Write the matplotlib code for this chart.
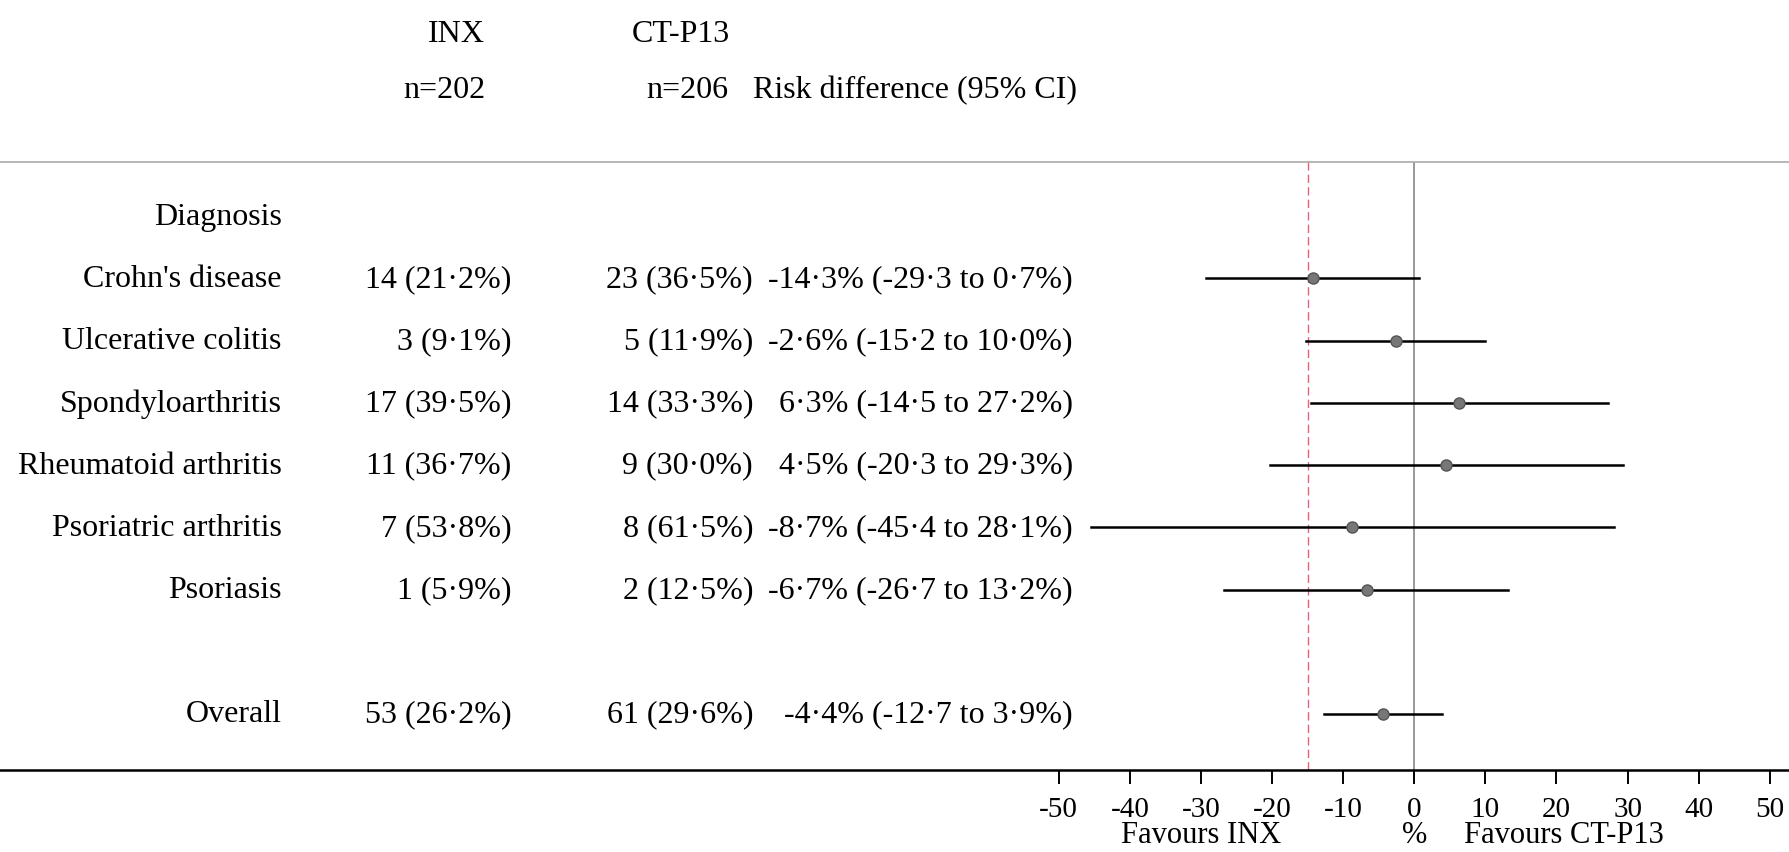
import matplotlib
matplotlib.use("Agg")
import matplotlib.pyplot as plt

plt.rcParams['font.family'] = ['Liberation Serif', 'DejaVu Serif']
plt.rcParams['axes.unicode_minus'] = False

# data
diagnoses = ["Crohn's disease", "Ulcerative colitis", "Spondyloarthritis",
             "Rheumatoid arthritis", "Psoriatric arthritis", "Psoriasis"]
inx_txt = ["14 (21·2%)", "3 (9·1%)", "17 (39·5%)", "11 (36·7%)", "7 (53·8%)", "1 (5·9%)"]
ctp_txt = ["23 (36·5%)", "5 (11·9%)", "14 (33·3%)", "9 (30·0%)", "8 (61·5%)", "2 (12·5%)"]
rd = [-14.3, -2.6, 6.3, 4.5, -8.7, -6.7]
lo = [-29.3, -15.2, -14.5, -20.3, -45.4, -26.7]
hi = [0.7, 10.0, 27.2, 29.3, 28.1, 13.2]

overall_inx = "53 (26·2%)"
overall_ctp = "61 (29·6%)"
overall_rd, overall_lo, overall_hi = -4.4, -12.7, 3.9

margin = -15
ticks = [-50, -40, -30, -20, -10, 0, 10, 20, 30, 40, 50]


def fmt(v):
    return f"{v:.1f}".replace(".", "·")


fig = plt.figure(figsize=(17.89, 8.53), dpi=100)
ax = fig.add_axes([0, 1 - 771 / 853, 1, (771 - 163) / 853])
ax.set_xlim(-198.9, 52.7)
ax.set_ylim(8.9, -0.87)

rows = list(range(1, len(diagnoses) + 1))
ov_row = 8

# reference lines
ax.axvline(0, color='#888888', lw=1.2, zorder=1)
ax.axvline(margin, color='#e8607a', lw=1.0, ls=(0, (6, 3)), zorder=1)

# CIs and points
for r, m, l, h in zip(rows + [ov_row], rd + [overall_rd], lo + [overall_lo], hi + [overall_hi]):
    ax.plot([l, h], [r, r], color='black', lw=1.8, zorder=2)
    ax.plot(m, r, 'o', color='#777777', mec='#555555', ms=8, zorder=3)

fs = 23
# text columns
ax.text(-159.3, 0, "Diagnosis", ha='right', va='center', fontsize=fs)
for r, name, a, b, m, l, h in zip(rows, diagnoses, inx_txt, ctp_txt, rd, lo, hi):
    ax.text(-159.3, r, name, ha='right', va='center', fontsize=fs)
    ax.text(-127.0, r, a, ha='right', va='center', fontsize=fs)
    ax.text(-93.0, r, b, ha='right', va='center', fontsize=fs)
    ax.text(-48.0, r, f"{fmt(m)}% ({fmt(l)} to {fmt(h)}%)", ha='right', va='center', fontsize=fs)

ax.text(-159.3, ov_row, "Overall", ha='right', va='center', fontsize=fs)
ax.text(-127.0, ov_row, overall_inx, ha='right', va='center', fontsize=fs)
ax.text(-93.0, ov_row, overall_ctp, ha='right', va='center', fontsize=fs)
ax.text(-48.0, ov_row, f"{fmt(overall_rd)}% ({fmt(overall_lo)} to {fmt(overall_hi)}%)",
        ha='right', va='center', fontsize=fs)

# header
ax.text(-130.7, -2.94, "INX", ha='right', va='center', fontsize=fs, clip_on=False)
ax.text(-96.2, -2.94, "CT-P13", ha='right', va='center', fontsize=fs, clip_on=False)
ax.text(-130.7, -2.04, "n=202", ha='right', va='center', fontsize=fs, clip_on=False)
ax.text(-96.5, -2.04, "n=206", ha='right', va='center', fontsize=fs, clip_on=False)
ax.text(-47.4, -2.04, "Risk difference (95% CI)", ha='right', va='center', fontsize=fs, clip_on=False)

# axes styling
for s in ['left', 'right']:
    ax.spines[s].set_visible(False)
ax.spines['top'].set_color('#aaaaaa')
ax.spines['top'].set_linewidth(1.2)
ax.spines['bottom'].set_linewidth(1.8)
ax.set_yticks([])
ax.set_xticks(ticks)
ax.set_xticklabels([str(t) for t in ticks])
ax.tick_params(axis='x', length=10, width=1.4, labelsize=21, pad=9)

# axis captions sit just above the bottom edge of the figure
for x, s in [(-30, "Favours INX"), (0, "%"), (21, "Favours CT-P13")]:
    ax.annotate(s, xy=(x, 0), xycoords=('data', 'figure pixels'), xytext=(0, 3),
                textcoords='offset pixels', ha='center', va='bottom', fontsize=22)

fig.savefig("out.png", dpi=100)
